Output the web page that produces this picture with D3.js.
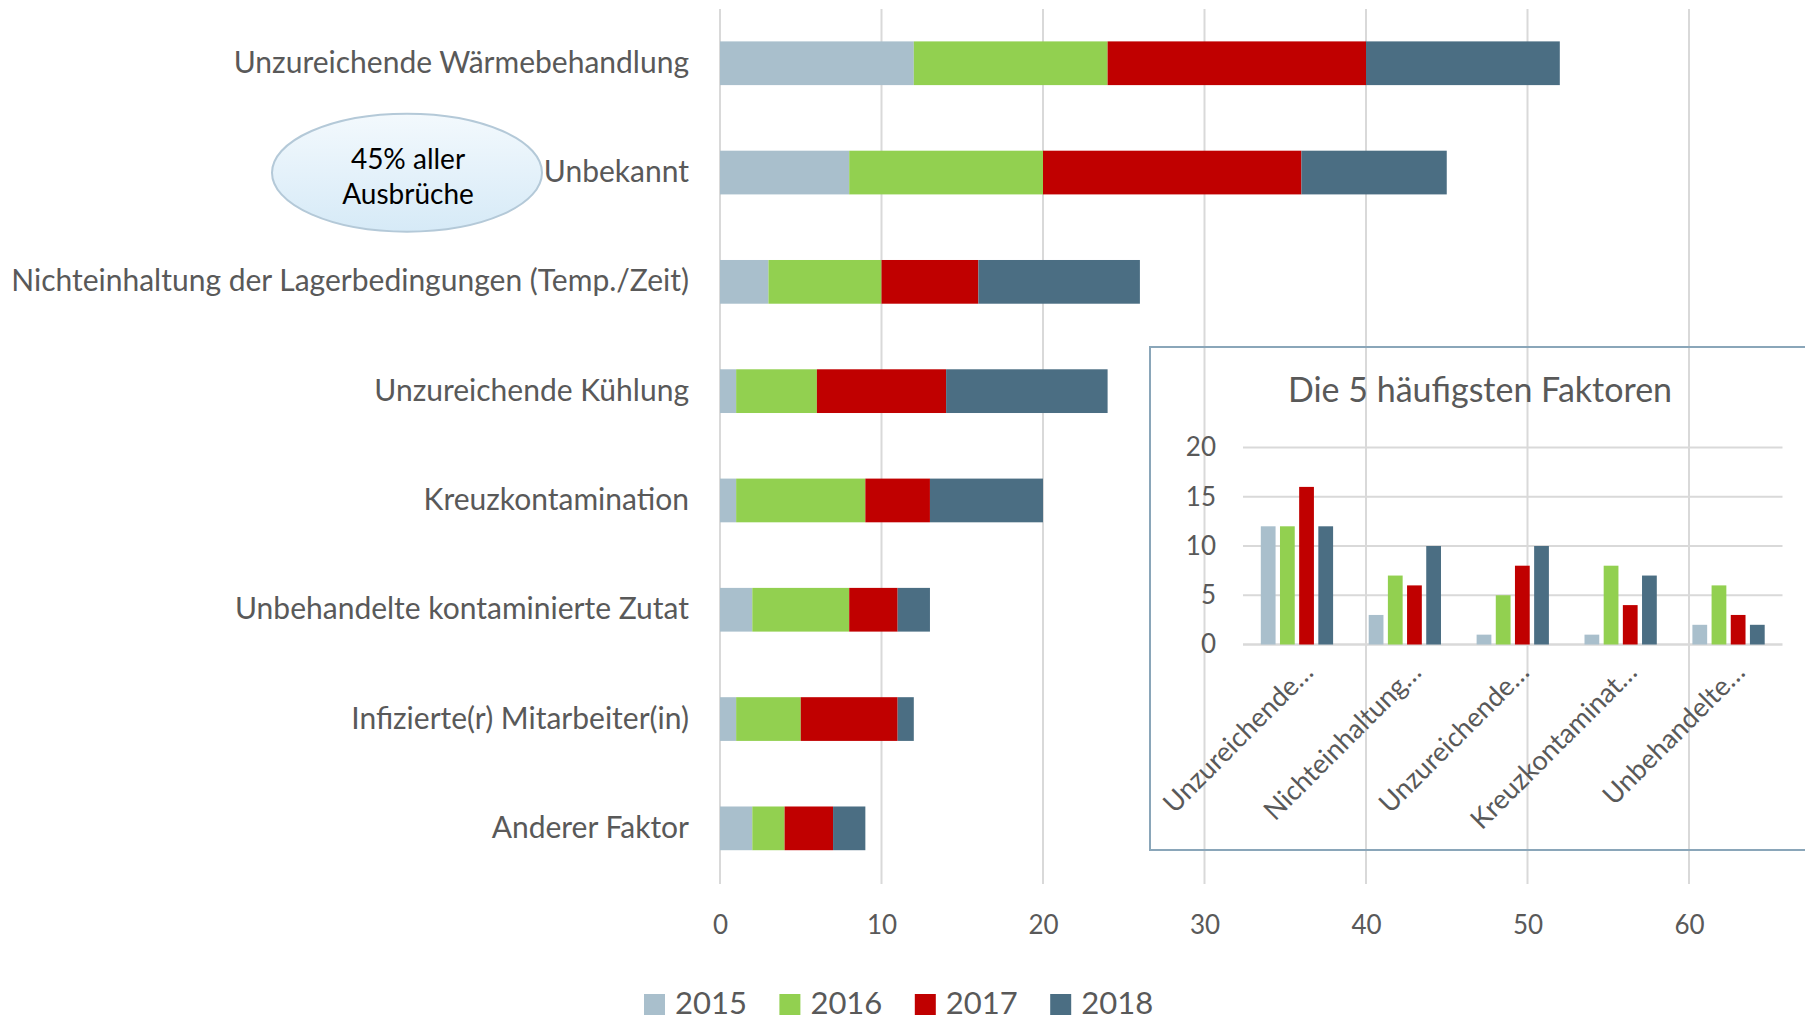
<!DOCTYPE html>
<meta charset="utf-8">
<html>
<head>
<script src="https://d3js.org/d3.v7.min.js"></script>
<style>
  body { margin: 0; background: #fff; }
  text { font-family: Lato, "Noto Sans", sans-serif; }
</style>
</head>
<body>
<svg id="svg" width="1805" height="1021"></svg>
<script>
  // data
  const years = ["2015", "2016", "2017", "2018"];
  const factors = [
    "Unzureichende Wärmebehandlung",
    "Unbekannt",
    "Nichteinhaltung der Lagerbedingungen (Temp./Zeit)",
    "Unzureichende Kühlung",
    "Kreuzkontamination",
    "Unbehandelte kontaminierte Zutat",
    "Infizierte(r) Mitarbeiter(in)",
    "Anderer Faktor"
  ];
  const v2015 = [12, 8, 3, 1, 1, 2, 1, 2];
  const v2016 = [12, 12, 7, 5, 8, 6, 4, 2];
  const v2017 = [16, 16, 6, 8, 4, 3, 6, 3];
  const v2018 = [12, 9, 10, 10, 7, 2, 1, 2];
  const xTicks = [0, 10, 20, 30, 40, 50, 60];

  const topFive = [
    "Unzureichende Wärmebehandlung",
    "Nichteinhaltung der Lagerbedingungen (Temp./Zeit)",
    "Unzureichende Kühlung",
    "Kreuzkontamination",
    "Unbehandelte kontaminierte Zutat"
  ];
  const topFiveLabels = ["Unzureichende…", "Nichteinhaltung…", "Unzureichende…", "Kreuzkontaminat…", "Unbehandelte…"];
  const insetTicks = [0, 5, 10, 15, 20];

  const colors = ["#A9BFCC", "#92D050", "#C00000", "#4B6E83"];
  const textGrey = "#595959";
  const gridGrey = "#D9D9D9";

  let svg = d3.select("#svg");

  let rows = factors.map((f, i) => ({
    factor: f, "2015": v2015[i], "2016": v2016[i], "2017": v2017[i], "2018": v2018[i]
  }));

  let color = d3.scaleOrdinal().domain(years).range(colors);

  // ---------- main stacked bar chart ----------
  let x = d3.scaleLinear().domain([0, 60]).range([720, 1689]);
  let y = d3.scaleBand().domain(factors).range([8.6, 883]).paddingInner(0.6).paddingOuter(0.3);

  // vertical gridlines
  svg.append("g").selectAll("line")
    .data(xTicks)
    .enter().append("line")
    .attr("x1", d => x(d)).attr("x2", d => x(d))
    .attr("y1", 9).attr("y2", 884)
    .attr("stroke", gridGrey).attr("stroke-width", 2);

  let stacks = d3.stack().keys(years)(rows);

  svg.append("g").selectAll("g")
    .data(stacks)
    .enter().append("g")
    .attr("fill", d => color(d.key))
    .selectAll("rect")
    .data(d => d)
    .enter().append("rect")
    .attr("x", d => x(d[0]))
    .attr("width", d => x(d[1]) - x(d[0]))
    .attr("y", d => y(d.data.factor))
    .attr("height", y.bandwidth());

  // category labels
  let yAxis = svg.append("g")
    .attr("transform", "translate(703,0)")
    .call(d3.axisLeft(y).tickSize(0).tickPadding(14));
  yAxis.select(".domain").remove();
  yAxis.selectAll("text")
    .attr("fill", textGrey)
    .style("font-size", "30px")
    .style("font-family", "Lato, 'Noto Sans', sans-serif");

  // x tick labels
  let xAxis = svg.append("g")
    .attr("transform", "translate(0,884)")
    .call(d3.axisBottom(x).tickValues(xTicks).tickSize(0).tickPadding(32));
  xAxis.select(".domain").remove();
  xAxis.selectAll("text")
    .attr("fill", textGrey)
    .style("font-size", "26px")
    .style("font-family", "Lato, 'Noto Sans', sans-serif");

  // ---------- annotation ellipse ----------
  let defs = svg.append("defs");
  let grad = defs.append("linearGradient").attr("id", "bubble")
    .attr("x1", 0).attr("y1", 0).attr("x2", 0).attr("y2", 1);
  grad.append("stop").attr("offset", "0%").attr("stop-color", "#F3F9FD");
  grad.append("stop").attr("offset", "100%").attr("stop-color", "#D6EAF7");

  svg.append("ellipse")
    .attr("cx", 407).attr("cy", 172.7).attr("rx", 135).attr("ry", 59)
    .attr("fill", "url(#bubble)")
    .attr("stroke", "#B4C9D8").attr("stroke-width", 2);

  svg.append("text")
    .attr("x", 408).attr("y", 159).attr("dy", "0.35em")
    .attr("text-anchor", "middle").attr("fill", "#000")
    .style("font-size", "28px")
    .text("45% aller");
  svg.append("text")
    .attr("x", 408).attr("y", 194).attr("dy", "0.35em")
    .attr("text-anchor", "middle").attr("fill", "#000")
    .style("font-size", "28px")
    .text("Ausbrüche");

  // ---------- legend ----------
  let legend = svg.append("g").attr("transform", "translate(644,994)");
  let items = legend.selectAll("g")
    .data(years)
    .enter().append("g")
    .attr("transform", (d, i) => `translate(${i * 135.4},0)`);
  items.append("rect")
    .attr("width", 21).attr("height", 21)
    .attr("fill", d => color(d));
  items.append("text")
    .attr("x", 31).attr("y", 20)
    .attr("fill", textGrey)
    .style("font-size", "31px")
    .text(d => d);

  // ---------- inset: top five factors ----------
  let inset = svg.append("g");
  inset.append("rect")
    .attr("x", 1150).attr("y", 347).attr("width", 700).attr("height", 503)
    .attr("fill", "none").attr("stroke", "#8AA6B9").attr("stroke-width", 2);

  inset.append("text")
    .attr("x", 1480).attr("y", 402)
    .attr("text-anchor", "middle").attr("fill", textGrey)
    .style("font-size", "34px")
    .text("Die 5 häufigsten Faktoren");

  let ix = d3.scaleBand().domain(topFive).range([1243, 1782.5]).paddingInner(0.33).paddingOuter(0.165);
  let ixYear = d3.scaleBand().domain(years).range([0, ix.bandwidth()]).paddingInner(0.23);
  let iy = d3.scaleLinear().domain([0, 20]).range([644.5, 447.5]);

  inset.append("g").selectAll("line")
    .data(insetTicks)
    .enter().append("line")
    .attr("x1", 1243).attr("x2", 1782.5)
    .attr("y1", d => iy(d)).attr("y2", d => iy(d))
    .attr("stroke", gridGrey).attr("stroke-width", d => d === 0 ? 2.5 : 2);

  let iyAxis = inset.append("g")
    .attr("transform", "translate(1230,0)")
    .call(d3.axisLeft(iy).tickValues(insetTicks).tickSize(0).tickPadding(14));
  iyAxis.select(".domain").remove();
  iyAxis.selectAll("text")
    .attr("fill", textGrey)
    .style("font-size", "26px")
    .style("font-family", "Lato, 'Noto Sans', sans-serif");

  let topRows = topFive.map(f => rows.find(r => r.factor === f));
  inset.append("g").selectAll("g")
    .data(topRows)
    .enter().append("g")
    .attr("transform", d => `translate(${ix(d.factor)},0)`)
    .selectAll("rect")
    .data(d => years.map(k => ({key: k, value: d[k]})))
    .enter().append("rect")
    .attr("x", d => ixYear(d.key))
    .attr("width", ixYear.bandwidth())
    .attr("y", d => iy(d.value))
    .attr("height", d => iy(0) - iy(d.value))
    .attr("fill", d => color(d.key));

  inset.append("g").selectAll("text")
    .data(topFive)
    .enter().append("text")
    .attr("transform", d => `translate(${ix(d) + ix.bandwidth() / 2 + 18},674) rotate(-45)`)
    .attr("text-anchor", "end")
    .attr("fill", textGrey)
    .style("font-size", "27px")
    .text((d, i) => topFiveLabels[i]);
</script>
</body>
</html>
